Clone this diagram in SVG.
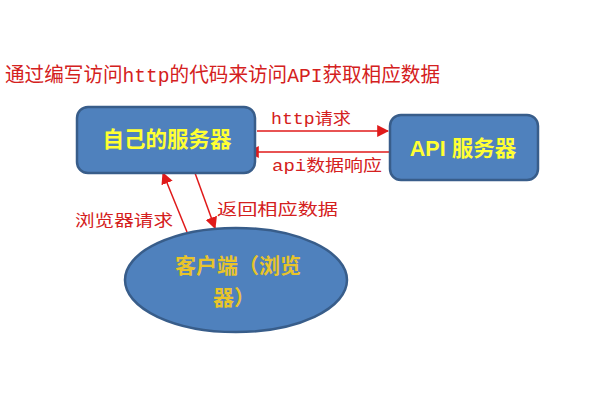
<svg xmlns="http://www.w3.org/2000/svg" width="600" height="400" viewBox="0 0 600 400">
<style>
.node{fill:#4f81bd;stroke:#385d8a;stroke-width:2.5}
.ntxt{font-family:"Liberation Sans","Noto Sans CJK SC",sans-serif;font-weight:bold;font-size:21.5px;fill:#ffff33;text-anchor:middle}
.ctxt{font-family:"Noto Sans CJK SC",sans-serif;font-weight:bold;font-size:21px;fill:#e8c42a}
.lbl{font-family:"Liberation Mono","Noto Sans CJK SC",monospace;font-size:16px;fill:#d42020}
.conn{stroke:#e01a1a;stroke-width:1.5;fill:none;marker-end:url(#ah)}
</style>
<defs>
<marker id="ah" viewBox="0 0 10 10" refX="9" refY="5" markerWidth="12" markerHeight="12" markerUnits="userSpaceOnUse" orient="auto">
<path d="M0,0 L10,5 L0,10 z" fill="#e01a1a"/>
</marker>
</defs>
<rect width="600" height="400" fill="#ffffff"/>
<text x="5" y="82" class="lbl" style="font-size:20px" textLength="435" lengthAdjust="spacingAndGlyphs">通过编写访问http的代码来访问API获取相应数据</text>
<g id="connectors">
<line class="conn" x1="257" y1="131" x2="388" y2="131"/>
<line class="conn" x1="392" y1="152" x2="248" y2="152"/>
<line class="conn" x1="187" y1="232" x2="163" y2="173"/>
<line class="conn" x1="195" y1="173" x2="215" y2="228"/>
<text class="lbl" x="271" y="124" textLength="80" lengthAdjust="spacingAndGlyphs">http请求</text>
<text class="lbl" x="272" y="171" textLength="110" lengthAdjust="spacingAndGlyphs">api数据响应</text>
<text class="lbl" x="75" y="226" textLength="98" lengthAdjust="spacingAndGlyphs">浏览器请求</text>
<text class="lbl" x="217" y="215" textLength="121" lengthAdjust="spacingAndGlyphs">返回相应数据</text>
</g>
<g id="own-server">
<rect class="node" x="77" y="107" width="178" height="66" rx="11"/>
<text class="ntxt" x="167" y="147">自己的服务器</text>
</g>
<g id="api-server">
<rect class="node" x="390" y="115" width="148" height="65" rx="11"/>
<text class="ntxt" x="463" y="156">API 服务器</text>
</g>
<g id="client">
<ellipse class="node" cx="236" cy="280" rx="111" ry="52"/>
<text class="ctxt" x="175" y="273">客户端（浏览</text>
<text class="ctxt" x="213" y="305">器）</text>
</g>
</svg>
